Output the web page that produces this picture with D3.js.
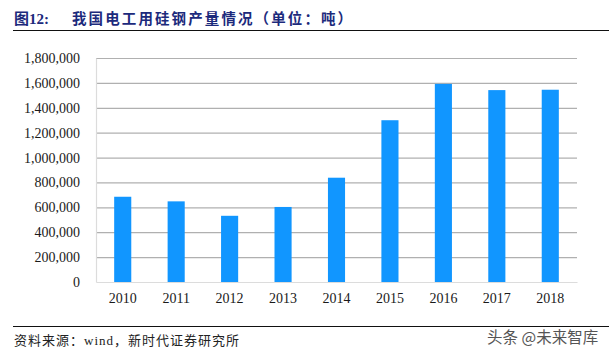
<!DOCTYPE html>
<html>
<head>
<meta charset="utf-8">
<script src="https://cdn.jsdelivr.net/npm/d3@7"></script>
<style>
html, body { margin: 0; padding: 0; background: #fff; overflow: hidden; }
text { font-family: "Liberation Serif", "Noto Sans CJK SC", serif; }
</style>
</head>
<body>
<div id="chart"></div>
<script>
// chart data
const years = ["2010", "2011", "2012", "2013", "2014", "2015", "2016", "2017", "2018"];
const output = [685000, 648000, 532000, 603000, 838000, 1300000, 1592000, 1542000, 1545000];
const yTicks = [0, 200000, 400000, 600000, 800000, 1000000, 1200000, 1400000, 1600000, 1800000];

const margin = { top: 58, right: 32, bottom: 74, left: 96 };
const width = 609 - margin.left - margin.right;
const height = 356 - margin.top - margin.bottom;

const root = d3.select("#chart")
    .append("svg")
    .attr("width", 609)
    .attr("height", 356);

const svg = root.append("g")
    .attr("transform", "translate(" + margin.left + "," + margin.top + ")");

const xScale = d3.scaleBand()
    .domain(years)
    .range([0, width])
    .paddingInner(0.68)
    .paddingOuter(0.34);

const yScale = d3.scaleLinear()
    .domain([0, 1800000])
    .range([height, 0]);

// gridlines
svg.selectAll(".grid")
    .data(yTicks.slice(1))
    .enter().append("line")
    .attr("class", "grid")
    .attr("x1", 0)
    .attr("x2", width)
    .attr("y1", d => yScale(d) + 0.5)
    .attr("y2", d => yScale(d) + 0.5)
    .attr("stroke", "#b0b0b0")
    .attr("stroke-width", 1.2);

svg.selectAll(".bar")
    .data(output)
    .enter().append("rect")
    .attr("class", "bar")
    .attr("x", (d, i) => xScale(years[i]))
    .attr("y", d => yScale(d))
    .attr("width", xScale.bandwidth())
    .attr("height", d => height - yScale(d))
    .attr("fill", "#1196ff");

// axes
const yAxis = svg.append("g")
    .call(d3.axisLeft(yScale).tickValues(yTicks).tickSize(0).tickPadding(16).tickFormat(d3.format(",")));
yAxis.select(".domain").attr("stroke", "#dcdcdc").attr("stroke-width", 1.2);
yAxis.selectAll("text").attr("font-size", 14).attr("fill", "#1a1a1a").style("font-family", "Liberation Serif");

const xAxis = svg.append("g")
    .attr("transform", "translate(0," + height + ")")
    .call(d3.axisBottom(xScale).tickSize(0).tickPadding(11));
xAxis.select(".domain").attr("stroke", "#dcdcdc").attr("stroke-width", 1.2);
xAxis.selectAll("text").attr("font-size", 14).attr("fill", "#1a1a1a").style("font-family", "Liberation Serif");

// title and source lines
root.append("text")
    .attr("x", 14)
    .attr("y", 24)
    .attr("font-size", 15)
    .attr("font-weight", "bold")
    .attr("fill", "#1c2a7c")
    .text("图12:");

root.append("text")
    .attr("x", 72)
    .attr("y", 24)
    .attr("font-size", 14.5)
    .attr("font-weight", "bold")
    .attr("fill", "#1c2a7c")
    .attr("letter-spacing", 2.1)
    .text("我国电工用硅钢产量情况\uFF08单位\uFF1A吨\uFF09");

root.append("line")
    .attr("x1", 13).attr("x2", 609)
    .attr("y1", 30.5).attr("y2", 30.5)
    .attr("stroke", "#111");

root.append("line")
    .attr("x1", 13).attr("x2", 609)
    .attr("y1", 326.5).attr("y2", 326.5)
    .attr("stroke", "#111");

root.append("text")
    .attr("x", 14)
    .attr("y", 345)
    .attr("font-size", 13)
    .attr("letter-spacing", 1)
    .attr("fill", "#222")
    .text("资料来源\uFF1Awind\uFF0C新时代证券研究所");

root.append("text")
    .attr("x", 487)
    .attr("y", 343)
    .attr("font-size", 15.5)
    .attr("fill", "#555")
    .style("font-family", "Noto Sans CJK SC")
    .text("头条 @未来智库");
</script>
</body>
</html>
